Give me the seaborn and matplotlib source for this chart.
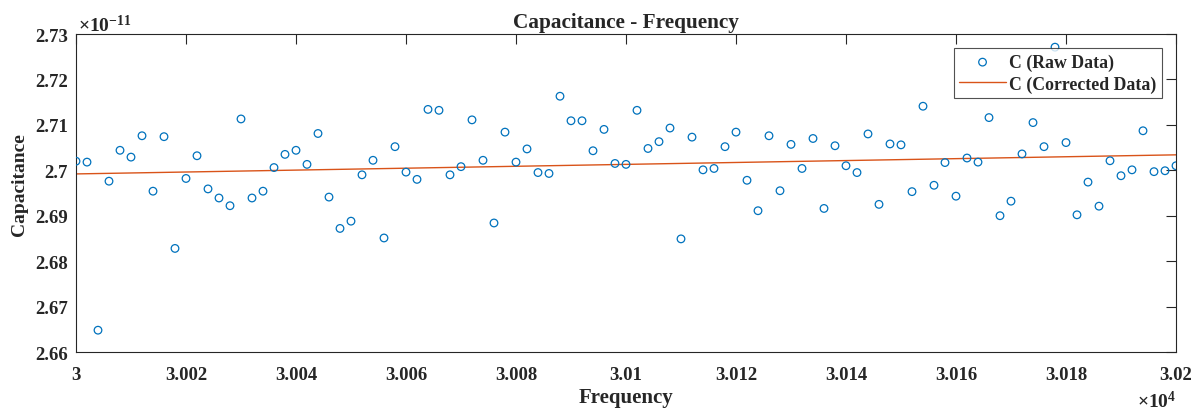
import numpy as np
import pandas as pd
import matplotlib
matplotlib.use("Agg")
import matplotlib.pyplot as plt
from matplotlib.ticker import FixedLocator, FuncFormatter
import seaborn as sns

# Frequency (Hz) and raw capacitance (units of 1e-11 F)
freq_hz = [30000 + 2 * i for i in range(101)]
cap_raw_e11 = [
    2.7020, 2.7018, 2.6648, 2.6976, 2.7044, 2.7029, 2.7076, 2.6954, 2.7074, 2.6828,
    2.6982, 2.7032, 2.6959, 2.6939, 2.6922, 2.7113, 2.6939, 2.6954, 2.7006, 2.7035,
    2.7044, 2.7013, 2.7081, 2.6941, 2.6872, 2.6888, 2.6990, 2.7022, 2.6851, 2.7052,
    2.6996, 2.6980, 2.7134, 2.7132, 2.6990, 2.7008, 2.7111, 2.7022, 2.6884, 2.7084,
    2.7018, 2.7047, 2.6995, 2.6993, 2.7163, 2.7109, 2.7109, 2.7043, 2.7090, 2.7015,
    2.7013, 2.7132, 2.7048, 2.7063, 2.7093, 2.6849, 2.7073, 2.7001, 2.7004, 2.7052,
    2.7084, 2.6978, 2.6911, 2.7076, 2.6955, 2.7057, 2.7004, 2.7070, 2.6916, 2.7054,
    2.7010, 2.6995, 2.7080, 2.6925, 2.7058, 2.7056, 2.6953, 2.7141, 2.6967, 2.7017,
    2.6943, 2.7027, 2.7018, 2.7116, 2.6900, 2.6932, 2.7036, 2.7105, 2.7052, 2.7271,
    2.7061, 2.6902, 2.6974, 2.6921, 2.7021, 2.6988, 2.7001, 2.7087, 2.6997, 2.6999,
    2.7010,
]
# Corrected (fitted) line endpoints
fit_freq_hz = [30000, 30200]
fit_cap_e11 = [2.6992, 2.7034]

x_ticks = [30000 + 20 * i for i in range(11)]
y_ticks = [2.66, 2.67, 2.68, 2.69, 2.70, 2.71, 2.72, 2.73]

sns.set_theme(style="white")
plt.rcParams["font.family"] = ["Liberation Serif", "DejaVu Serif"]
plt.rcParams["font.weight"] = "bold"
plt.rcParams["mathtext.fontset"] = "custom"
plt.rcParams["mathtext.rm"] = "Liberation Serif"
plt.rcParams["mathtext.bf"] = "Liberation Serif:bold"

df = pd.DataFrame({"freq": np.array(freq_hz) / 1e4, "cap": cap_raw_e11})
fit = pd.DataFrame({"freq": np.array(fit_freq_hz) / 1e4, "cap": fit_cap_e11})

fig = plt.figure(figsize=(12.03, 4.14), dpi=100)
ax = fig.add_axes([76 / 1203, 1 - 353 / 414, 1100 / 1203, 318 / 414])

blue = "#0072BD"
orange = "#D95319"
sns.scatterplot(data=df, x="freq", y="cap", ax=ax, marker="o", s=30,
                facecolors="none", edgecolor=blue, linewidth=0.9,
                label="C (Raw Data)", zorder=3)
sns.lineplot(data=fit, x="freq", y="cap", ax=ax, color=orange, lw=1.0,
             label="C (Corrected Data)", zorder=2)

ax.set_xlim(3.0, 3.02)
ax.set_ylim(2.66, 2.73)
ax.xaxis.set_major_locator(FixedLocator([v / 1e4 for v in x_ticks]))
ax.yaxis.set_major_locator(FixedLocator(y_ticks))
ax.xaxis.set_major_formatter(FuncFormatter(lambda v, p: f"{round(v, 4):g}"))
ax.yaxis.set_major_formatter(FuncFormatter(lambda v, p: f"{round(v, 2):g}"))

ax.tick_params(direction="in", length=7, width=0.8, top=True, right=True,
               labelsize=13.5, colors="#262626")
ax.tick_params(axis="x", pad=10)
ax.tick_params(axis="y", pad=6)
for lab in ax.get_xticklabels() + ax.get_yticklabels():
    lab.set_fontweight("bold")
for s in ax.spines.values():
    s.set_color("#262626")
    s.set_linewidth(0.8)

ax.set_xlabel("Frequency", fontsize=15, fontweight="bold", labelpad=3)
ax.set_ylabel("Capacitance", fontsize=14, fontweight="bold")
ax.yaxis.set_label_coords(-0.0436, 0.53)
ax.set_title("Capacitance - Frequency", fontsize=15.3, fontweight="bold", pad=5)

ax.text(0.0015, 1.01, r"$\times\mathregular{10^{-11}}$", transform=ax.transAxes,
        ha="left", va="baseline", fontsize=14, color="#262626")
ax.text(1.0, -0.173, r"$\times\mathregular{10^{4}}$", transform=ax.transAxes,
        ha="right", va="baseline", fontsize=14, color="#262626")

leg = ax.legend(loc="upper right", frameon=True, fancybox=False,
                edgecolor="#262626", borderpad=0.3, handlelength=2.6,
                handletextpad=0.2, labelspacing=0.25, borderaxespad=0.8,
                prop={"weight": "bold", "size": 12.8})
leg.get_frame().set_linewidth(0.8)

fig.savefig("out.png", dpi=100)
